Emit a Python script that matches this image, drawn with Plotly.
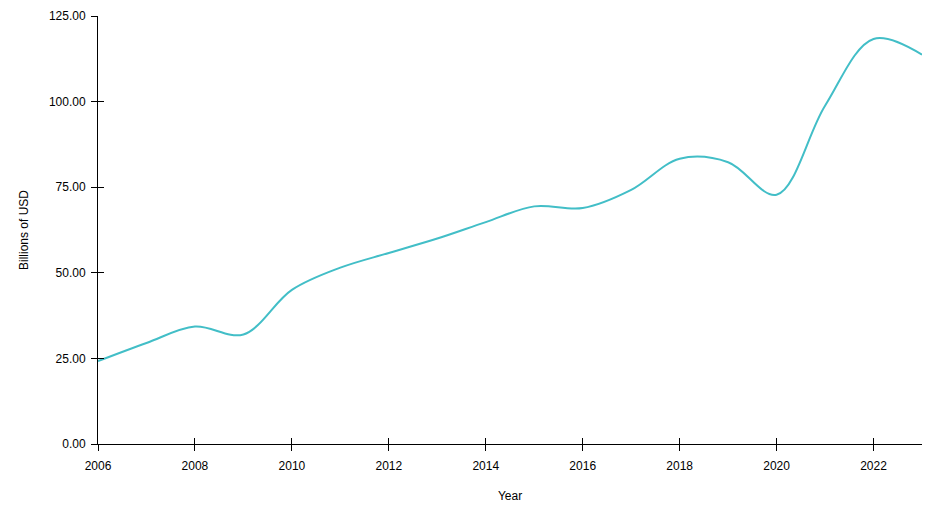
import plotly.graph_objects as go

years = list(range(2006, 2024))
billions_usd = [24.2, 29.5, 34.3, 32.0, 45.0, 51.5, 55.8, 60.0, 64.8, 69.4,
                68.9, 74.2, 83.3, 82.3, 72.8, 98.8, 118.3, 113.7]

line_color = "#42bec7"
font = dict(family="Liberation Sans, Arial, sans-serif", size=12, color="#000000")

fig = go.Figure()
fig.add_trace(go.Scatter(
    x=years,
    y=billions_usd,
    mode="lines",
    line=dict(color=line_color, width=2, shape="spline", smoothing=1),
    hoverinfo="x+y",
    showlegend=False,
))
# invisible copy so the overlay axes (inner half of the ticks) get drawn
fig.add_trace(go.Scatter(
    x=years, y=billions_usd, xaxis="x2", yaxis="y2",
    mode="lines", line=dict(width=0), opacity=0,
    hoverinfo="skip", showlegend=False,
))

axis_common = dict(
    showgrid=False,
    zeroline=False,
    showline=True,
    linecolor="#000000",
    linewidth=1,
    tickcolor="#000000",
    ticklen=6,
    tickwidth=1,
    automargin=False,
)

fig.update_layout(
    width=944,
    height=508,
    margin=dict(l=98, r=22, t=16, b=64),
    plot_bgcolor="white",
    paper_bgcolor="white",
    font=font,
    xaxis=dict(
        range=[2006, 2023],
        tick0=2006,
        dtick=2,
        ticks="outside",
        tickfont=font,
        ticklabelstandoff=5,
        title=dict(text="Year", font=font, standoff=19),
        **axis_common,
    ),
    yaxis=dict(
        range=[0, 125],
        tick0=0,
        dtick=25,
        tickformat=".2f",
        ticks="outside",
        tickfont=font,
        ticklabelstandoff=3,
        title=dict(text="Billions of USD", font=font, standoff=17),
        **axis_common,
    ),
    xaxis2=dict(
        range=[2006, 2023], tick0=2006, dtick=2, ticks="inside",
        overlaying="x", showticklabels=False, anchor="y2",
        **axis_common,
    ),
    yaxis2=dict(
        range=[0, 125], tick0=0, dtick=25, ticks="inside",
        overlaying="y", showticklabels=False, anchor="x2",
        **axis_common,
    ),
)

fig.write_html("out.html", config=dict(displayModeBar=False),
               post_script="document.body.style.margin='0px';")
